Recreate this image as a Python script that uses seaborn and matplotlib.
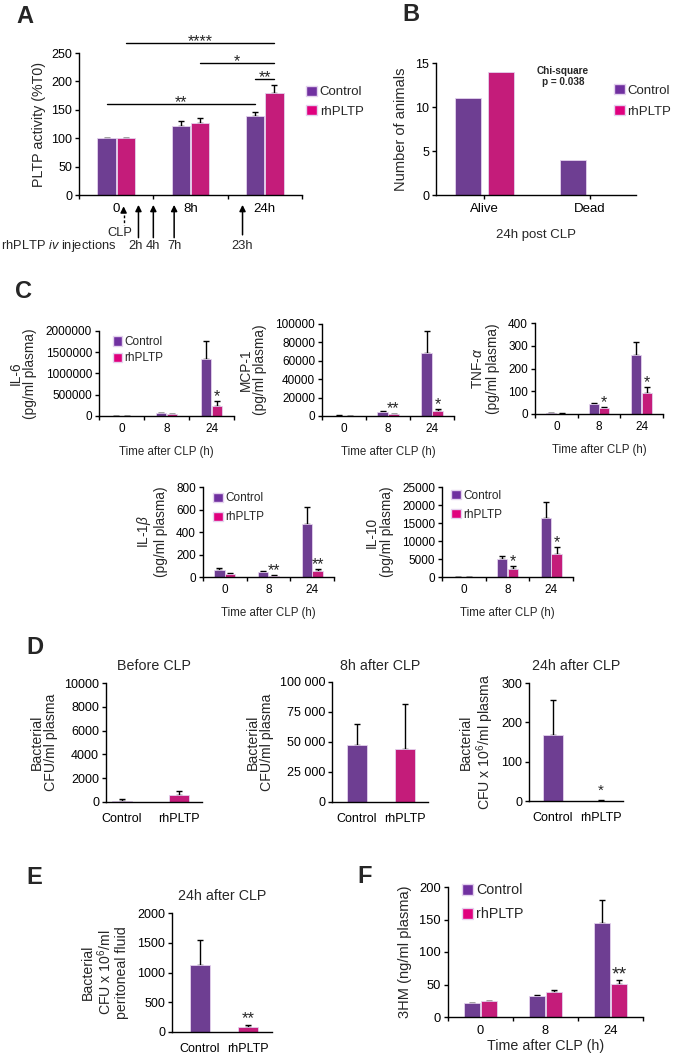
import numpy as np
import pandas as pd
import matplotlib
matplotlib.use('Agg')
import matplotlib.pyplot as plt
from matplotlib.patches import Patch
from matplotlib.container import BarContainer
from matplotlib.ticker import FuncFormatter
import seaborn as sns

sns.set_style('ticks')
plt.rcParams['font.family'] = ['Liberation Sans', 'DejaVu Sans']
plt.rcParams['mathtext.fontset'] = 'custom'
plt.rcParams['mathtext.rm'] = 'Liberation Sans'
plt.rcParams['mathtext.it'] = 'Liberation Sans:italic'
plt.rcParams['axes.linewidth'] = 1.0
plt.rcParams['axes.edgecolor'] = 'black'
plt.rcParams['xtick.color'] = 'black'
plt.rcParams['ytick.color'] = 'black'

# 색상
PURPLE = '#7030A0'
MAGENTA = '#E0007E'
EDGE = '#E4D2EE'
groups = ['Control', 'rhPLTP']
pal = {'Control': PURPLE, 'rhPLTP': MAGENTA}

# A: PLTP activity
pltp_times = ['0', '8h', '24h']
pltp_ctrl = [100, 122, 139]
pltp_ctrl_err = [0.8, 8, 7]
pltp_rh = [100, 127, 179]
pltp_rh_err = [0.8, 8, 14]
inj_labels = ['CLP', '2h', '4h', '7h', '23h']

# B: survival
surv_cats = ['Alive', 'Dead']
surv_ctrl = [11, 4]
surv_rh = [14, 0]

# C: cytokines
cyto_times = ['0', '8', '24']
il6_ctrl = [2000, 60000, 1340000]
il6_ctrl_err = [1000, 15000, 420000]
il6_rh = [1000, 45000, 240000]
il6_rh_err = [500, 10000, 110000]
mcp1_ctrl = [500, 4000, 68000]
mcp1_ctrl_err = [200, 1000, 24000]
mcp1_rh = [300, 2000, 5000]
mcp1_rh_err = [100, 700, 2500]
tnf_ctrl = [4, 42, 260]
tnf_ctrl_err = [1, 5, 55]
tnf_rh = [2, 28, 92]
tnf_rh_err = [1, 4, 25]
il1b_ctrl = [60, 45, 470]
il1b_ctrl_err = [22, 10, 150]
il1b_rh = [28, 12, 50]
il1b_rh_err = [8, 6, 22]
il10_ctrl = [60, 5000, 16500]
il10_ctrl_err = [20, 800, 4300]
il10_rh = [40, 2300, 6300]
il10_rh_err = [20, 800, 2000]

# D: bacteria in plasma
cfu_before = [120, 550]
cfu_before_err = [100, 400]
cfu_8h = [47500, 44000]
cfu_8h_err = [17500, 38000]
cfu_24h = [168, 1]
cfu_24h_err = [88, 0.5]

# E: bacteria in peritoneal fluid
cfu_perit = [1130, 85]
cfu_perit_err = [420, 35]

# F: 3HM
hm_ctrl = [21, 32, 144]
hm_ctrl_err = [1, 2, 36]
hm_rh = [24, 38, 51]
hm_rh_err = [1, 3, 6]

W, H = 675, 1059
fig = plt.figure(figsize=(W / 100, H / 100), dpi=100)


def place(l, t, r, b):
    return fig.add_axes([l / W, 1 - b / H, (r - l) / W, (b - t) / H])


def bar_list(ax):
    return [b for c in ax.containers if isinstance(c, BarContainer) for b in c]


def add_err(ax, errs):
    bs = bar_list(ax)
    xs = [b.get_x() + b.get_width() / 2 for b in bs]
    hs = [b.get_height() for b in bs]
    ax.errorbar(xs, hs, yerr=[np.zeros(len(errs)), errs], fmt='none', ecolor='black',
                elinewidth=1, capsize=2.5, capthick=1, zorder=1)


def grouped(ax, cats, ctrl, rh, ctrl_err, rh_err, width=0.52, gap=0.05):
    df = pd.DataFrame({'x': cats * 2, 'y': ctrl + rh,
                       'g': ['Control'] * len(cats) + ['rhPLTP'] * len(cats)})
    sns.barplot(data=df, x='x', y='y', hue='g', order=cats, hue_order=groups, palette=pal,
                width=width, gap=gap, edgecolor=EDGE, linewidth=0.6, errorbar=None,
                legend=False, ax=ax, zorder=2)
    if ctrl_err is not None:
        add_err(ax, ctrl_err + rh_err)


def single(ax, vals, errs, width):
    df = pd.DataFrame({'x': groups, 'y': vals})
    sns.barplot(data=df, x='x', y='y', hue='x', order=groups, hue_order=groups, palette=pal,
                width=width, edgecolor=EDGE, linewidth=0.6, errorbar=None, legend=False,
                ax=ax, zorder=2)
    add_err(ax, errs)


def star(ax, idx, err, text, size=11.5, dy=0):
    b = bar_list(ax)[idx]
    ax.annotate(text, xy=(b.get_x() + b.get_width() / 2, b.get_height() + err),
                xytext=(0, dy), textcoords='offset points', ha='center', va='baseline',
                fontsize=size, annotation_clip=False)


def style(ax, lsize):
    sns.despine(ax=ax)
    ax.tick_params(direction='out', length=3, width=1, labelsize=lsize, pad=2)


def legend(ax, x, y, size, spacing=0.4):
    hs = [Patch(facecolor=pal[g], edgecolor=EDGE) for g in groups]
    ax.legend(hs, groups, loc='upper left', bbox_to_anchor=(x, y), frameon=False,
              fontsize=size, handlelength=0.8, handleheight=0.8, handletextpad=0.2,
              borderaxespad=0, borderpad=0, labelspacing=spacing)


def boundary_ticks(ax, labels, lsize, pad):
    n = len(labels)
    ax.set_xlim(-0.5, n - 0.5)
    ax.set_xticks(np.arange(n + 1) - 0.5)
    ax.set_xticklabels([])
    ax.set_xticks(np.arange(n), minor=True)
    ax.set_xticklabels(labels, minor=True)
    ax.tick_params(axis='x', which='minor', length=0, labelsize=lsize, pad=pad)


def letter(x, y, s):
    fig.text(x / W, 1 - y / H, s, fontsize=17, fontweight='bold', ha='left', va='top')


# ---------- A ----------
axA = place(79, 53, 302, 195)
grouped(axA, pltp_times, pltp_ctrl, pltp_rh, pltp_ctrl_err, pltp_rh_err)
style(axA, 9)
axA.set_ylim(0, 250)
axA.set_yticks(range(0, 251, 50))
boundary_ticks(axA, pltp_times, 9.5, 6)
axA.set_xlabel('')
axA.set_ylabel('PLTP activity (%T0)', fontsize=10.3, labelpad=4)
legend(axA, 1.02, 0.77, 9.5, spacing=0.5)

bA = bar_list(axA)
cx = [b.get_x() + b.get_width() / 2 for b in bA]
# significance brackets
for i0, i1, yv, txt in [(3, 5, 268, '****'), (4, 5, 233, '*'), (2, 5, 205, '**'), (0, 2, 160, '**')]:
    axA.plot([cx[i0], cx[i1]], [yv, yv], color='black', lw=1, clip_on=False)
    axA.annotate(txt, xy=((cx[i0] + cx[i1]) / 2, yv), xytext=(0, -2.5),
                 textcoords='offset points', ha='center', va='baseline', fontsize=11.5,
                 annotation_clip=False)

# injection arrows
tr = axA.get_xaxis_transform()
inj_x = [0.10, 0.30, 0.50, 0.78, 1.70]
for xv, lab in zip(inj_x, inj_labels):
    if lab == 'CLP':
        axA.annotate('', xy=(xv, -0.06), xytext=(xv, -0.13), xycoords=tr,
                     arrowprops=dict(arrowstyle='-|>', color='black', lw=1.1, mutation_scale=9),
                     annotation_clip=False)
        axA.plot([xv, xv], [-0.14, -0.21], transform=tr, color='black', lw=1,
                 ls=(0, (2, 1.5)), clip_on=False)
        axA.text(xv - 0.05, -0.265, lab, transform=tr, ha='center', va='center', fontsize=9.3)
    else:
        tail = -0.30 if lab == '23h' else -0.32
        shift = -0.04 if lab == '2h' else 0.0
        axA.annotate('', xy=(xv, -0.05), xytext=(xv, tail), xycoords=tr,
                     arrowprops=dict(arrowstyle='-|>', color='black', lw=1.1, mutation_scale=9),
                     annotation_clip=False)
        axA.text(xv + shift, -0.36, lab, transform=tr, ha='center', va='center', fontsize=9.3)
axA.text(0.0, -0.36, r'rhPLTP $\mathit{iv}$ injections', transform=tr, ha='right',
         va='center', fontsize=9.3)
letter(16, 5, 'A')

# ---------- B ----------
axB = place(436, 63, 636, 195)
grouped(axB, surv_cats, surv_ctrl, surv_rh, None, None, width=0.62, gap=0.2)
style(axB, 9)
axB.set_ylim(0, 15)
axB.set_yticks([0, 5, 10, 15])
axB.set_xlim(-0.46, 1.44)
axB.tick_params(axis='x', length=3, pad=3, labelsize=9.5)
axB.set_xlabel('24h post CLP', fontsize=9.5, labelpad=10)
axB.set_ylabel('Number of animals', fontsize=10.5, labelpad=5)
axB.text(0.635, 0.90, 'Chi-square\np = 0.038', transform=axB.transAxes, ha='center',
         va='center', fontsize=7.2, fontweight='bold', linespacing=1.15)
legend(axB, 0.89, 0.84, 9.5, spacing=0.65)
letter(402, 3, 'B')

# ---------- C ----------
cyto = [
    ((99, 331, 234, 416), 'IL-6', il6_ctrl, il6_rh, il6_ctrl_err, il6_rh_err, 2000000, 500000,
     [(5, '*')], (0.10, 0.94, 0.35)),
    ((322, 324, 454, 416), 'MCP-1', mcp1_ctrl, mcp1_rh, mcp1_ctrl_err, mcp1_rh_err, 100000, 20000,
     [(4, '**'), (5, '*')], None),
    ((535, 323, 663, 414), r'TNF-$\alpha$', tnf_ctrl, tnf_rh, tnf_ctrl_err, tnf_rh_err, 400, 100,
     [(4, '*'), (5, '*')], None),
    ((203, 487, 334, 577), r'IL-1$\beta$', il1b_ctrl, il1b_rh, il1b_ctrl_err, il1b_rh_err, 800, 200,
     [(4, '**'), (5, '**')], (0.08, 0.94, 0.6)),
    ((442, 487, 573, 577), 'IL-10', il10_ctrl, il10_rh, il10_ctrl_err, il10_rh_err, 25000, 5000,
     [(4, '*'), (5, '*')], (0.07, 0.97, 0.6)),
]
for box, name, c, r, ce, re_, top, step, stars, leg in cyto:
    ax = place(*box)
    grouped(ax, cyto_times, c, r, ce, re_, width=0.5, gap=0.05)
    style(ax, 8.5)
    ax.set_ylim(0, top)
    ax.set_yticks(np.arange(0, top + 1, step))
    ax.yaxis.set_major_formatter(FuncFormatter(lambda v, p: f'{int(v)}'))
    boundary_ticks(ax, cyto_times, 8.5, 5)
    ax.set_xlabel('Time after CLP (h)', fontsize=8.3, labelpad=8)
    ax.set_ylabel(name + '\n(pg/ml plasma)', fontsize=9.8, labelpad=6, linespacing=1.05)
    errs = ce + re_
    for idx, s in stars:
        star(ax, idx, errs[idx], s, size=11.5)
    if leg is not None:
        legend(ax, leg[0], leg[1], 8.5, spacing=leg[2])
letter(15, 280, 'C')

# ---------- D ----------
d_panels = [
    ((106, 683, 202, 802), 'Before CLP', cfu_before, cfu_before_err, 10000, 2000, (-0.28, 1.4), 0.35,
     'Bacterial\nCFU/ml plasma', False, None),
    ((332, 682, 428, 802), '8h after CLP', cfu_8h, cfu_8h_err, 100000, 25000, (-0.52, 1.48), 0.4,
     'Bacterial\nCFU/ml plasma', True, None),
    ((529, 683, 623, 801), '24h after CLP', cfu_24h, cfu_24h_err, 300, 100, (-0.5, 1.46), 0.42,
     'Bacterial\nCFU x 10$^6$/ml plasma', False, '*'),
]
for box, title, vals, errs, top, step, xl, w, ylab, spaced, st in d_panels:
    ax = place(*box)
    single(ax, vals, errs, w)
    style(ax, 9)
    ax.set_ylim(0, top)
    ax.set_yticks(np.arange(0, top + 1, step))
    if spaced:
        ax.yaxis.set_major_formatter(FuncFormatter(lambda v, p: f'{int(v):,}'.replace(',', ' ')))
    ax.set_xlim(*xl)
    ax.tick_params(axis='x', length=0, pad=8, labelsize=9)
    ax.set_xlabel('')
    ax.set_ylabel(ylab, fontsize=10.2, labelpad=4, linespacing=1.05)
    ax.set_title(title, fontsize=10.3, pad=9)
    if st:
        star(ax, 1, errs[1], st, size=11, dy=4)
letter(26, 636, 'D')

# ---------- E ----------
axE = place(172, 913, 272, 1032)
single(axE, cfu_perit, cfu_perit_err, 0.4)
style(axE, 9)
axE.set_ylim(0, 2000)
axE.set_yticks(range(0, 2001, 500))
axE.set_xlim(-0.58, 1.5)
axE.tick_params(axis='x', length=0, pad=8, labelsize=9)
axE.set_xlabel('')
axE.set_ylabel('Bacterial\nCFU x 10$^6$/ml\nperitoneal fluid', fontsize=10.2, labelpad=6,
               linespacing=1.05)
axE.set_title('24h after CLP', fontsize=10.3, pad=9)
star(axE, 1, cfu_perit_err[1], '**', size=12, dy=1.5)
letter(26, 866, 'E')

# ---------- F ----------
axF = place(448, 887, 643, 1017)
grouped(axF, cyto_times, hm_ctrl, hm_rh, hm_ctrl_err, hm_rh_err, width=0.52, gap=0.05)
style(axF, 9.3)
axF.set_ylim(0, 200)
axF.set_yticks(range(0, 201, 50))
boundary_ticks(axF, cyto_times, 9.3, 6)
axF.set_xlabel('Time after CLP (h)', fontsize=10.3, labelpad=1)
axF.set_ylabel('3HM (ng/ml plasma)', fontsize=10.5, labelpad=5)
star(axF, 5, hm_rh_err[2], '**', size=14, dy=0)
legend(axF, 0.07, 1.03, 10.3, spacing=0.7)
letter(357, 865, 'F')

fig.savefig('out.png', dpi=100)
